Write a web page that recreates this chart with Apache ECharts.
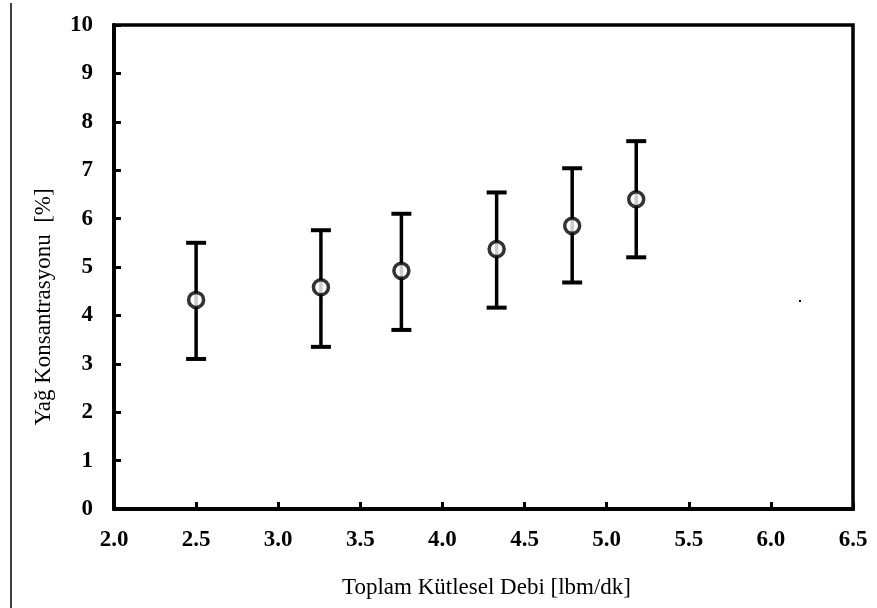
<!DOCTYPE html>
<html>
<head>
<meta charset="utf-8">
<script src="https://cdn.jsdelivr.net/npm/echarts@6/dist/echarts.min.js"></script>
<style>
html,body{margin:0;padding:0;background:#fff;}
#chart{width:877px;height:608px;}
</style>
</head>
<body>
<div id="chart"></div>
<script>
var xValues = [2.5, 3.26, 3.75, 4.33, 4.79, 5.18];
var yValues = [4.32, 4.58, 4.92, 5.37, 5.85, 6.40];
var yLow    = [3.10, 3.35, 3.70, 4.16, 4.68, 5.20];
var yHigh   = [5.50, 5.76, 6.10, 6.54, 7.04, 7.60];
var xTitle = 'Toplam Kütlesel Debi [lbm/dk]';
var yTitle = 'Yağ Konsantrasyonu  [%]';

var chart = echarts.init(document.getElementById('chart'));
var tickFont = {fontFamily: 'Liberation Serif', fontWeight: 'bold', fontSize: 23, color: '#000'};

var errData = xValues.map(function(x, i){ return [x, yLow[i], yHigh[i]]; });
var ptData = xValues.map(function(x, i){ return [x, yValues[i]]; });

chart.setOption({
  animation: false,
  backgroundColor: '#fff',
  grid: {left: 114, right: 24, top: 25, bottom: 99, show: true, borderColor: '#000', borderWidth: 3.5, backgroundColor: 'transparent'},
  xAxis: {
    type: 'value', min: 2.0, max: 6.5, interval: 0.5,
    name: xTitle, nameLocation: 'middle', nameGap: 67,
    nameTextStyle: {fontFamily: 'Liberation Serif', fontSize: 23, color: '#000', padding: [0, 0, 0, 6]},
    axisLine: {show: true, lineStyle: {color: '#000', width: 4}},
    axisTick: {show: true, inside: true, length: 7, lineStyle: {color: '#000', width: 3}},
    axisLabel: Object.assign({margin: 20, formatter: function(v){ return v.toFixed(1); }}, tickFont),
    splitLine: {show: false}
  },
  yAxis: {
    type: 'value', min: 0, max: 10, interval: 1,
    axisLine: {show: true, lineStyle: {color: '#000', width: 4}},
    axisTick: {show: true, inside: true, length: 7, lineStyle: {color: '#000', width: 3}},
    axisLabel: Object.assign({margin: 21}, tickFont),
    splitLine: {show: false}
  },
  graphic: [
    {type: 'line', shape: {x1: 11, y1: 3, x2: 11, y2: 608}, style: {stroke: '#000', lineWidth: 1.5}},
    {type: 'rect', shape: {x: 799, y: 300, width: 2, height: 2}, style: {fill: '#000'}},
    {type: 'text', x: 44, y: 307, rotation: Math.PI / 2,
      style: {text: yTitle, fontFamily: 'Liberation Serif', fontSize: 23, fill: '#000', align: 'center', verticalAlign: 'middle'}}
  ],
  series: [
    {
      type: 'custom',
      data: errData,
      renderItem: function(params, api){
        var x = api.value(0);
        var lo = api.coord([x, api.value(1)]);
        var hi = api.coord([x, api.value(2)]);
        var hw = 10;
        return {
          type: 'group',
          children: [
            {type: 'line', shape: {x1: lo[0], y1: lo[1], x2: hi[0], y2: hi[1]}, style: {stroke: '#000', lineWidth: 3.5}},
            {type: 'line', shape: {x1: lo[0]-hw, y1: lo[1], x2: lo[0]+hw, y2: lo[1]}, style: {stroke: '#000', lineWidth: 4}},
            {type: 'line', shape: {x1: hi[0]-hw, y1: hi[1], x2: hi[0]+hw, y2: hi[1]}, style: {stroke: '#000', lineWidth: 4}}
          ]
        };
      },
      z: 2
    },
    {
      type: 'scatter',
      data: ptData,
      symbol: 'circle',
      symbolSize: 15,
      itemStyle: {color: '#fff', borderColor: '#000', borderWidth: 3.5},
      z: 3
    }
  ]
});
</script>
</body>
</html>
